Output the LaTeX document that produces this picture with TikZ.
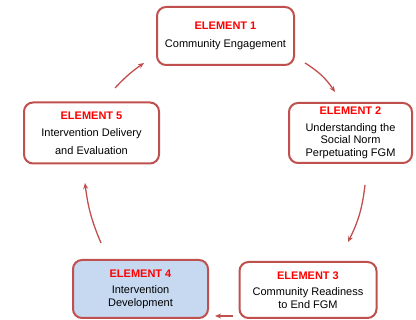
\documentclass[tikz,border=0pt]{standalone}
\usepackage{fontspec}
\setmainfont{Liberation Sans}
\usetikzlibrary{arrows.meta}
\definecolor{bord}{HTML}{C0504D}
\definecolor{elred}{HTML}{FF0000}
\definecolor{lblue}{HTML}{C6D9F1}
\tikzset{
  elbox/.style={draw=bord, line width=2pt, rounded corners=9pt, fill=white,
    align=center, inner sep=0pt, font=\fontsize{11}{12.5}\selectfont},
  cyc/.style={draw=bord, line width=1.3pt, -{Stealth[length=6pt,width=5pt]}},
}
\newcommand{\elt}[1]{\textcolor{elred}{\textbf{ELEMENT #1}}}
\begin{document}
\begin{tikzpicture}[x=1pt,y=-1pt]
\useasboundingbox (0,0) rectangle (416,320);
\node[elbox, minimum width=137pt, minimum height=58pt] (e1) at (225.5,36)
  {\elt{1}\\[5pt]Community Engagement};
\node[elbox, minimum width=123pt, minimum height=60pt] (e2) at (350.5,133)
  {\elt{2}\\[4pt]Understanding the\\Social Norm\\Perpetuating FGM};
\node[elbox, minimum width=137pt, minimum height=56pt] (e3) at (308,290)
  {\elt{3}\\[4pt]Community Readiness\\to End FGM};
\node[elbox, fill=lblue, minimum width=135pt, minimum height=58pt] (e4) at (140.5,289)
  {\elt{4}\\[4pt]Intervention\\Development};
\node[elbox, minimum width=135pt, minimum height=61pt, font=\fontsize{11}{17.5}\selectfont] (e5) at (91.5,133)
  {\elt{5}\\Intervention Delivery\\and Evaluation};
\coordinate (a1s) at (305,63);  \coordinate (a1e) at (335,92);
\coordinate (a2s) at (365,185); \coordinate (a2e) at (348,242);
\coordinate (a3s) at (233,316); \coordinate (a3e) at (215,316);
\coordinate (a4s) at (101,243); \coordinate (a4e) at (85,183);
\coordinate (a5s) at (115,88);  \coordinate (a5e) at (144,63);
\draw[cyc] (a1s) to[bend left=12] (a1e);
\draw[cyc] (a2s) to[bend left=10] (a2e);
\draw[cyc] (a3s) -- (a3e);
\draw[cyc] (a4s) to[bend left=8] (a4e);
\draw[cyc] (a5s) to[bend left=6] (a5e);
\end{tikzpicture}
\end{document}
